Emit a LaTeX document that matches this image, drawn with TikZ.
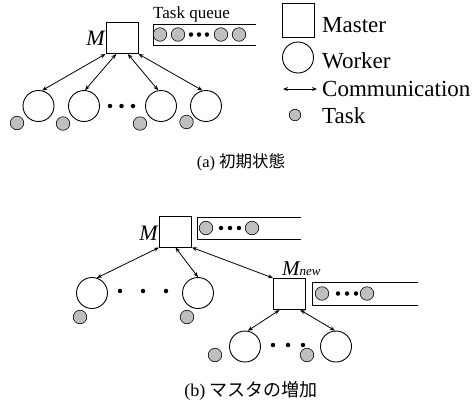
\documentclass[tikz,border=0pt]{standalone}
\usepackage{fontspec}
\setmainfont{Liberation Serif}
\newfontfamily\jpfont{Noto Sans CJK JP}
\usetikzlibrary{arrows.meta}
\begin{document}
\begin{tikzpicture}[x=1pt,y=-1pt,
  master/.style={draw, line width=1pt, minimum width=32pt, minimum height=31pt, inner sep=0pt},
  worker/.style={draw, line width=0.9pt, circle, minimum size=31pt, inner sep=0pt},
  task/.style={draw, line width=0.6pt, circle, fill=gray!50, minimum size=13.5pt, inner sep=0pt},
  dotm/.style={circle, fill=black, minimum size=4.5pt, inner sep=0pt},
  comm/.style={{Stealth[length=5pt,width=4pt]}-{Stealth[length=5pt,width=4pt]}, line width=0.8pt},
  queue/.style={line width=0.9pt},
  lbl/.style={inner sep=0pt, anchor=base west, font=\fontsize{23}{26}\selectfont},
  mlbl/.style={inner sep=0pt, anchor=base east, font=\itshape\fontsize{22}{24}\selectfont},
  captxt/.style={inner sep=0pt},
]
\useasboundingbox (0,0) rectangle (475,405);

% ---------- (a) ----------
\node[master] (m) at (122,38) {};
\node[mlbl] (ml) at (105,45) {M};
\draw[queue] (256,24) -- (153,24) -- (153,45) -- (256,45);
\node[inner sep=0pt, anchor=base west, font=\fontsize{17}{20}\selectfont] (tq) at (153,18) {Task queue};
\node[task] (q1) at (160,34.5) {};
\node[task] (q2) at (178,34.5) {};
\node[dotm] (qd1) at (191,34.5) {};
\node[dotm] (qd2) at (199,34.5) {};
\node[dotm] (qd3) at (207,34.5) {};
\node[task] (q3) at (221,34.5) {};
\node[task] (q4) at (239,34.5) {};

\node[worker] (w1) at (38.5,106) {};
\node[worker] (w2) at (84,106) {};
\node[worker] (w3) at (161,106) {};
\node[worker] (w4) at (206,106) {};
\node[task] (t1) at (17,123) {};
\node[task] (t2) at (63,123.5) {};
\node[task] (t3) at (140,123.5) {};
\node[task] (t4) at (186.5,122) {};
\node[dotm] (d1) at (110,106) {};
\node[dotm] (d2) at (121.5,106) {};
\node[dotm] (d3) at (133,106) {};

\draw[comm] (m.south west) -- (w1.77);
\draw[comm] (m.250) -- (w2.86);
\draw[comm] (m.290) -- (w3.100);
\draw[comm] (m.south east) -- (w4.103);

% legend
\node[master, minimum height=34pt] (lm) at (298,20) {};
\node[lbl] (lmt) at (322,32) {Master};
\node[worker] (lw) at (298,57.5) {};
\node[lbl] (lwt) at (322,68) {Worker};
\coordinate (la1) at (283,89);
\coordinate (la2) at (317,89);
\draw[comm] (la1) -- (la2);
\node[lbl] (lct) at (322,96) {Communication};
\node[task, minimum size=11.5pt] (lt) at (295,115) {};
\node[lbl] (ltt) at (322,123) {Task};

\node[captxt, font=\fontsize{16.5}{20}\selectfont] (ca) at (241,162) {(a) {\jpfont 初期状態}};

% ---------- (b) ----------
\node[master] (m2) at (175.5,231.5) {};
\node[mlbl] (m2l) at (158,240) {M};
\draw[queue] (301,217) -- (197,217) -- (197,239) -- (301,239);
\node[task] (r1) at (206,228) {};
\node[dotm] (rd1) at (221,228) {};
\node[dotm] (rd2) at (230,228) {};
\node[dotm] (rd3) at (239,228) {};
\node[task] (r2) at (252,228) {};

\node[worker] (v1) at (92,293) {};
\node[worker] (v2) at (198,293) {};
\node[task] (s1) at (80,317) {};
\node[task] (s2) at (187,317) {};
\node[dotm] (e1) at (120,291) {};
\node[dotm] (e2) at (143,291) {};
\node[dotm] (e3) at (166,291) {};

\node[master] (mn) at (289.5,294) {};
\node[inner sep=0pt, anchor=base west] (mnl) at (282,275) {\fontsize{21}{24}\selectfont\itshape M\fontsize{13}{15}\selectfont new};
\draw[queue] (418,282) -- (312,282) -- (312,305) -- (418,305);
\node[task] (n1) at (322,293.5) {};
\node[dotm] (nd1) at (338,293.5) {};
\node[dotm] (nd2) at (347,293.5) {};
\node[dotm] (nd3) at (356,293.5) {};
\node[task] (n2) at (367,293.5) {};

\node[worker] (v3) at (245,346.5) {};
\node[worker] (v4) at (336,346.5) {};
\node[task] (s3) at (215,355) {};
\node[task] (s4) at (307,355) {};
\node[dotm] (f1) at (273,345) {};
\node[dotm] (f2) at (288,345) {};
\node[dotm] (f3) at (303,345) {};

\draw[comm] (m2.south west) -- (v1.72);
\draw[comm] (m2.south) -- (v2.north);
\draw[comm] (m2.south east) -- (mn.north west);
\draw[comm] (mn.238) -- (v3.80);
\draw[comm] (mn.304) -- (v4.94);

\node[captxt, font=\fontsize{18}{21}\selectfont] (cb) at (251,391) {(b) {\jpfont マスタの増加}};
\end{tikzpicture}
\end{document}
